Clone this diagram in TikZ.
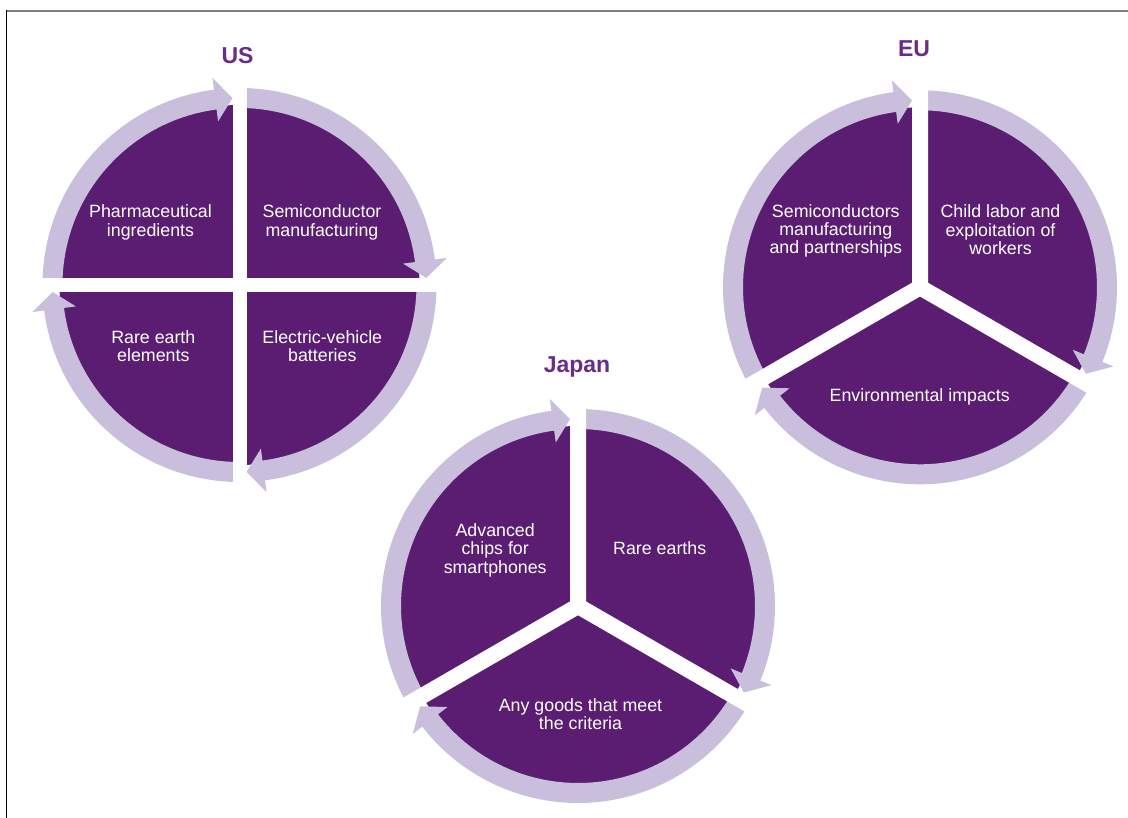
\documentclass[tikz,border=0pt]{standalone}
\usepackage{fontspec}
\setmainfont{Liberation Sans}
\definecolor{piecol}{HTML}{5A1D72}
\definecolor{ringcol}{HTML}{C9BEDC}
\definecolor{titlecol}{HTML}{6A2C87}
\definecolor{framegray}{HTML}{808080}
\tikzset{
  ringarc/.style={draw=ringcol, line width=20pt},
  segtext/.style={text=white, align=center, font=\fontsize{17.8}{18.3}\selectfont, inner sep=0pt},
  titletext/.style={text=titlecol, font=\fontsize{23}{26}\selectfont\bfseries, inner sep=0pt, anchor=base},
}
% #1 start angle, #2 gap angle at the arrow end, #3 tip offset angle
\newcommand{\ringbody}[3]{%
  \draw[ringarc] (#1:187) arc[start angle=#1, end angle={#2-#3-4.7}, radius=187];}
% #1 gap angle, #2 tip offset angle
\newcommand{\ringhead}[2]{%
  \fill[ringcol] ({#1-#2-5.3}:165) -- ({#1-#2}:187) -- ({#1-#2-5.3}:209) -- cycle;}
\begin{document}
\begin{tikzpicture}[x=1pt,y=-1pt]
\useasboundingbox (0,0) rectangle (1128,818);
% frame
\draw[framegray, line width=2pt] (6,11) -- (1128,11);
\draw[black, line width=1pt] (6.5,10) -- (6.5,818);

% ---------- US ----------
\begin{scope}[shift={(239.5,285)}]
  \fill[piecol] (0,0) circle[radius=180];
  \ringbody{180}{270}{2.15}
  \ringbody{270}{360}{2.15}
  \ringbody{0}{90}{2.15}
  \ringbody{90}{180}{2.15}
  \draw[white, line width=14pt] (-212,0) -- (212,0) (0,-212) -- (0,212);
  \ringhead{270}{2.15}
  \ringhead{360}{2.15}
  \ringhead{90}{2.15}
  \ringhead{180}{2.15}
\end{scope}
\node[titletext] (ustitle) at (237.5,63.5) {US};
\node[segtext] (us1) at (150.5,222.3) {Pharmaceutical\\ingredients};
\node[segtext] (us2) at (322,222.3) {Semiconductor\\manufacturing};
\node[segtext] (us3) at (153.3,346.3) {Rare earth\\elements};
\node[segtext] (us4) at (322.3,346.3) {Electric-vehicle\\batteries};

% ---------- EU ----------
\begin{scope}[shift={(920,287.3)}]
  \fill[piecol] (0,0) circle[radius=180];
  \ringbody{150}{270}{2.45}
  \ringbody{270}{390}{2.45}
  \ringbody{30}{150}{2.45}
  \draw[white, line width=16pt] (0,0) -- (270:212) (0,0) -- (30:212) (0,0) -- (150:212);
  \ringhead{270}{2.45}
  \ringhead{390}{2.45}
  \ringhead{150}{2.45}
\end{scope}
\node[titletext] (eutitle) at (914,56.5) {EU};
\node[segtext] (eu1) at (835.8,231.1) {Semiconductors\\manufacturing\\and partnerships};
\node[segtext] (eu2) at (1000.5,229.8) {Child labor and\\exploitation of\\workers};
\node[segtext] (eu3) at (919.7,396.6) {Environmental impacts};

% ---------- Japan ----------
\begin{scope}[shift={(578,606)}]
  \fill[piecol] (0,0) circle[radius=180];
  \ringbody{150}{270}{2.45}
  \ringbody{270}{390}{2.45}
  \ringbody{30}{150}{2.45}
  \draw[white, line width=16pt] (0,0) -- (270:212) (0,0) -- (30:212) (0,0) -- (150:212);
  \ringhead{270}{2.45}
  \ringhead{390}{2.45}
  \ringhead{150}{2.45}
\end{scope}
\node[titletext] (jptitle) at (577,372.5) {Japan};
\node[segtext] (jp1) at (495.2,550.3) {Advanced\\chips for\\smartphones};
\node[segtext] (jp2) at (659.7,548.1) {Rare earths};
\node[segtext] (jp3) at (580.5,713.8) {Any goods that meet\\the criteria};
\end{tikzpicture}
\end{document}
